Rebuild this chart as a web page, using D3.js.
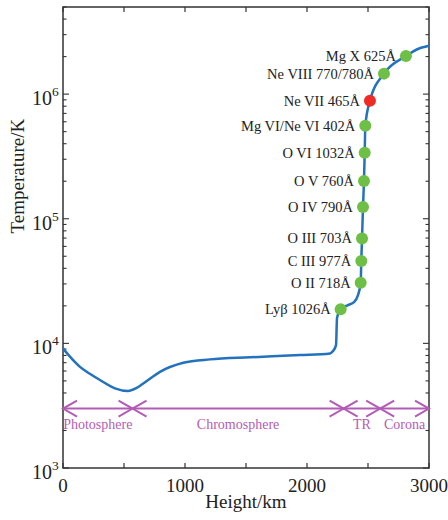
<!DOCTYPE html>
<html>
<head>
<meta charset="utf-8">
<script src="https://cdn.jsdelivr.net/npm/d3@7"></script>
<style>
  body { margin: 0; background: #fff; }
  text { font-family: "Liberation Serif", "Times New Roman", serif; }
</style>
</head>
<body>
<script>
// temperature profile
const heights = [0, 57, 139, 220, 303, 426, 533, 600, 658, 795, 986, 1205, 1533, 1943, 2189, 2213, 2238, 2246, 2276, 2336, 2385, 2418, 2440, 2445, 2451, 2459, 2467, 2473, 2478, 2516, 2631, 2811, 2900, 3000];
const temps   = [9120, 7820, 6480, 5700, 5080, 4360, 4150, 4380, 4770, 5910, 6980, 7440, 7730, 8050, 8310, 8670, 9680, 15960, 18760, 20300, 21400, 24400, 30600, 45900, 69500, 124000, 201000, 339000, 557000, 885000, 1460000, 2020000, 2280000, 2440000];

// spectral lines
const lineNames   = ["Lyβ 1026Å", "O II 718Å", "C III 977Å", "O III 703Å", "O IV 790Å", "O V 760Å", "O VI 1032Å", "Mg VI/Ne VI 402Å", "Ne VII 465Å", "Ne VIII 770/780Å", "Mg X 625Å"];
const lineHeights = [2276, 2440, 2445, 2451, 2459, 2467, 2473, 2478, 2516, 2631, 2811];
const lineTemps   = [18760, 30600, 45900, 69500, 124000, 201000, 339000, 557000, 885000, 1460000, 2020000];
const highlighted = "Ne VII 465Å";

// layers of the atmosphere
const regionNames  = ["Photosphere", "Chromosphere", "TR", "Corona"];
const regionBounds = [0, 570, 2300, 2600, 3000];
const regionTemp = 3000;

const xTicks = [0, 500, 1000, 1500, 2000, 2500, 3000];
const xLabels = [0, 1000, 2000, 3000];
const yDecades = [3, 4, 5, 6];

const W = 448, H = 520;
const margin = {top: 7, right: 19, bottom: 52, left: 63},
    width  = W - margin.left - margin.right,
    height = H - margin.top - margin.bottom;

const axisCol = "#333", blue = "#2272bd", purple = "#b35cb5";

const svg = d3.select("body").append("svg")
    .attr("width", W).attr("height", H);
const g = svg.append("g")
    .attr("transform", `translate(${margin.left},${margin.top})`);

const x = d3.scaleLinear().domain([0, 3000]).range([0, width]);
const y = d3.scaleLog().domain([1e3, 5e6]).range([height, 0]);

// frame
g.append("rect")
    .attr("width", width).attr("height", height)
    .attr("fill", "none").attr("stroke", axisCol).attr("stroke-width", 1.5);

// x ticks, inward on bottom and top
xTicks.forEach(t => {
    g.append("line").attr("x1", x(t)).attr("x2", x(t))
        .attr("y1", height).attr("y2", height - 5)
        .attr("stroke", axisCol).attr("stroke-width", 1.2);
    g.append("line").attr("x1", x(t)).attr("x2", x(t))
        .attr("y1", 0).attr("y2", 5)
        .attr("stroke", axisCol).attr("stroke-width", 1.2);
});
xLabels.forEach(t => {
    g.append("text").attr("x", x(t)).attr("y", height + 24)
        .attr("text-anchor", "middle").attr("font-size", 19)
        .attr("fill", "#222").text(t);
});

// log ticks, inward on left and right
const logTicks = y.ticks();
logTicks.forEach(t => {
    const major = Math.abs(Math.log10(t) - Math.round(Math.log10(t))) < 1e-9;
    const len = major ? 6 : 3.5;
    g.append("line").attr("x1", 0).attr("x2", len)
        .attr("y1", y(t)).attr("y2", y(t))
        .attr("stroke", axisCol).attr("stroke-width", 1.1);
    g.append("line").attr("x1", width).attr("x2", width - len)
        .attr("y1", y(t)).attr("y2", y(t))
        .attr("stroke", axisCol).attr("stroke-width", 1.1);
});
yDecades.forEach(e => {
    const ty = y(Math.pow(10, e));
    g.append("text").attr("x", -11).attr("y", ty + 11)
        .attr("text-anchor", "end").attr("font-size", 20)
        .attr("fill", "#222").text("10");
    g.append("text").attr("x", -11).attr("y", ty + 2)
        .attr("text-anchor", "start").attr("font-size", 13.5)
        .attr("fill", "#222").text(e);
});

// axis titles
svg.append("text")
    .attr("transform", `translate(${margin.left + width / 2},${H - 12})`)
    .attr("text-anchor", "middle").attr("font-size", 19).attr("fill", "#222")
    .text("Height/km");
svg.append("text")
    .attr("transform", `translate(24,${margin.top + y(2.2e5)}) rotate(-90)`)
    .attr("text-anchor", "middle").attr("font-size", 19).attr("fill", "#222")
    .text("Temperature/K");

// temperature curve
const line = d3.line()
    .x((d, i) => x(heights[i]))
    .y(d => y(d))
    .curve(d3.curveMonotoneX);
g.append("path")
    .attr("d", line(temps))
    .attr("fill", "none").attr("stroke", blue).attr("stroke-width", 2.5);

// region arrows
const ay = y(regionTemp);
g.append("line").attr("x1", x(0)).attr("x2", x(3000))
    .attr("y1", ay).attr("y2", ay)
    .attr("stroke", purple).attr("stroke-width", 2);
regionBounds.forEach((b, i) => {
    const bx = x(b);
    if (i < regionBounds.length - 1) // head pointing left
        g.append("path").attr("d", `M${bx + 14},${ay - 8}L${bx},${ay}L${bx + 14},${ay + 8}`)
            .attr("fill", "none").attr("stroke", purple).attr("stroke-width", 2);
    if (i > 0) // head pointing right
        g.append("path").attr("d", `M${bx - 14},${ay - 8}L${bx},${ay}L${bx - 14},${ay + 8}`)
            .attr("fill", "none").attr("stroke", purple).attr("stroke-width", 2);
});
regionNames.forEach((n, i) => {
    g.append("text")
        .attr("x", x((regionBounds[i] + regionBounds[i + 1]) / 2))
        .attr("y", ay + 20)
        .attr("text-anchor", "middle").attr("font-size", 14)
        .attr("fill", purple).text(n);
});

// line formation points
lineNames.forEach((n, i) => {
    const cx = x(lineHeights[i]), cy = y(lineTemps[i]);
    g.append("circle").attr("cx", cx).attr("cy", cy).attr("r", 6)
        .attr("fill", n === highlighted ? "#ee2b24" : "#6dbf45");
    g.append("text").attr("x", cx - 10).attr("y", cy + 5)
        .attr("text-anchor", "end").attr("font-size", 14.5)
        .attr("fill", "#222").text(n);
});
</script>
</body>
</html>
